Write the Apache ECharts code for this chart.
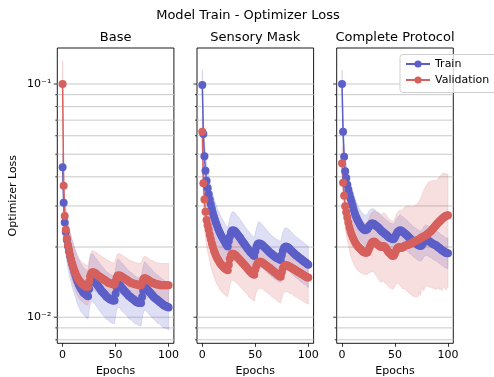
<!DOCTYPE html>
<html>
<head>
<meta charset="utf-8">
<script src="https://cdn.jsdelivr.net/npm/echarts@6/dist/echarts.min.js"></script>
<style>
  html, body { margin: 0; padding: 0; background: #fff; }
  #chart { width: 494px; height: 377px; }
</style>
</head>
<body>
<div id="chart"></div>
<script>
// ---- data: mean loss per epoch with lower / upper band edges ----
const baseTrain = [.044,.031,.0255,.0232,.0215,.0202,.0192,.0183,.0176,.0169,.0163,.0157,.0152,.0147,.0143,.0139,.0136,.0133,.0131,.0129,.0127,.0126,.0125,.0124,.0123,
  .0132,.0141,.0145,.0146,.0145,.0143,.0141,.0139,.0137,.0135,.0133,.0131,.0129,.0128,.0126,.0125,.0123,.0122,.0121,.012,.0119,.0119,.0118,.0118,.0118,
  .0126,.0134,.0138,.0138,.0137,.0135,.0133,.0132,.013,.0129,.0127,.0126,.0124,.0123,.0122,.0121,.012,.0119,.0118,.0117,.0116,.0116,.0115,.0115,.0115,
  .0122,.013,.0134,.0134,.0133,.0131,.013,.0128,.0127,.0125,.0124,.0122,.0121,.012,.0119,.0118,.0117,.0116,.0115,.0114,.0113,.0112,.0112,.0111,.0111,.011];
const baseTrainLo = [.039,.026,.0208,.0187,.0173,.0162,.0154,.0147,.0141,.0135,.013,.0126,.0122,.0118,.0114,.0111,.0109,.0106,.0105,.0103,.0102,.0101,.01,.0099,.0098,
  .0106,.0113,.0116,.0117,.0116,.0114,.0113,.0111,.011,.0108,.0106,.0105,.0103,.0102,.0101,.01,.0098,.0098,.0097,.0096,.0095,.0095,.0094,.0094,.0094,
  .0101,.0107,.011,.011,.011,.0108,.0106,.0106,.0104,.0103,.0102,.0101,.0099,.0098,.0098,.0097,.0096,.0095,.0094,.0094,.0093,.0093,.0092,.0092,.0092,
  .0098,.0104,.0107,.0107,.0106,.0105,.0104,.0102,.0102,.01,.0099,.0098,.0097,.0096,.0095,.0094,.0094,.0093,.0092,.0091,.009,.009,.009,.0089,.0089,.0088];
const baseTrainHi = [.05,.037,.0315,.0292,.0272,.0257,.0245,.0234,.0225,.0216,.0209,.0201,.0195,.0188,.0183,.0178,.0174,.017,.0168,.0165,.0163,.0161,.016,.0159,.0157,
  .0169,.018,.0186,.0187,.0186,.0183,.018,.0178,.0175,.0173,.017,.0168,.0165,.0164,.0161,.016,.0157,.0156,.0155,.0154,.0152,.0152,.0151,.0151,.0151,
  .0161,.0172,.0177,.0177,.0175,.0173,.017,.0169,.0166,.0165,.0163,.0161,.0159,.0157,.0156,.0155,.0154,.0152,.0151,.015,.0148,.0148,.0147,.0147,.0147,
  .0156,.0166,.0172,.0172,.017,.0168,.0166,.0164,.0163,.016,.0159,.0156,.0155,.0154,.0152,.0151,.015,.0148,.0147,.0146,.0145,.0143,.0143,.0142,.0142,.0141];
const baseVal = [.1,.0366,.0272,.0237,.0218,.0204,.0194,.0185,.0177,.017,.0164,.0159,.0155,.0151,.0148,.0145,.0143,.0141,.0139,.0138,.0137,.0136,.0135,.0135,.0135,
  .0142,.015,.0154,.0156,.0156,.0155,.0154,.0153,.0151,.015,.0149,.0148,.0147,.0146,.0145,.0144,.0143,.0142,.0141,.014,.014,.0139,.0139,.0138,.0138,
  .0143,.0148,.0151,.0151,.0151,.015,.0149,.0148,.0147,.0146,.0145,.0144,.0143,.0142,.0141,.014,.014,.0139,.0139,.0138,.0138,.0138,.0137,.0137,.0137,
  .0141,.0145,.0147,.0147,.0146,.0145,.0144,.0143,.0142,.0141,.0141,.014,.0139,.0139,.0138,.0138,.0138,.0137,.0137,.0137,.0137,.0137,.0137,.0137,.0137,.0137];
const baseValLo = [.08,.031,.0228,.0199,.0183,.0171,.0163,.0155,.0149,.0143,.0138,.0134,.013,.0127,.0124,.0122,.012,.0118,.0117,.0116,.0115,.0114,.0113,.0113,.0113,
  .0119,.0126,.0129,.0131,.0131,.013,.0129,.0129,.0127,.0126,.0125,.0124,.0123,.0123,.0122,.0121,.012,.0119,.0118,.0118,.0118,.0117,.0117,.0116,.0116,
  .012,.0124,.0127,.0127,.0127,.0126,.0125,.0124,.0123,.0123,.0122,.0121,.012,.0119,.0118,.0118,.0118,.0117,.0117,.0116,.0116,.0116,.0115,.0115,.0115,
  .0118,.0122,.0123,.0123,.0123,.0122,.0121,.012,.0119,.0118,.0118,.0118,.0117,.0117,.0116,.0116,.0116,.0115,.0115,.0115,.0115,.0115,.0115,.0115,.0115,.0115];
const baseValHi = [.126,.045,.0337,.0294,.027,.0253,.0241,.0229,.0219,.0211,.0203,.0197,.0192,.0187,.0184,.018,.0177,.0175,.0172,.0171,.017,.0169,.0167,.0167,.0167,
  .0176,.0186,.0191,.0193,.0193,.0192,.0191,.019,.0187,.0186,.0185,.0184,.0182,.0181,.018,.0179,.0177,.0176,.0175,.0174,.0174,.0172,.0172,.0171,.0171,
  .0177,.0184,.0187,.0187,.0187,.0186,.0185,.0184,.0182,.0181,.018,.0179,.0177,.0176,.0175,.0174,.0174,.0172,.0172,.0171,.0171,.0171,.017,.017,.017,
  .0175,.018,.0182,.0182,.0181,.018,.0179,.0177,.0176,.0175,.0175,.0174,.0172,.0172,.0171,.0171,.0171,.017,.017,.017,.017,.017,.017,.017,.017,.017];

const maskTrain = [.099,.061,.049,.0425,.0385,.0358,.0337,.032,.0305,.0292,.028,.027,.0261,.0253,.0246,.0239,.0233,.0228,.0223,.0219,.0215,.0211,.0207,.0204,.0201,
  .0212,.0222,.023,.0235,.0236,.0235,.0233,.023,.0227,.0224,.0221,.0218,.0214,.0211,.0208,.0205,.0202,.0199,.0196,.0194,.0191,.0189,.0187,.0185,.0183,
  .0192,.02,.0205,.0207,.0207,.0206,.0205,.0203,.0201,.0199,.0197,.0195,.0193,.0191,.0189,.0187,.0186,.0184,.0183,.0181,.018,.0179,.0178,.0177,.0176,
  .0185,.0193,.0198,.02,.0201,.02,.0199,.0197,.0195,.0193,.0191,.0189,.0187,.0185,.0184,.0182,.0181,.0179,.0178,.0176,.0175,.0173,.0172,.0171,.0169,.0168];
const maskTrainLo = [.088,.052,.041,.035,.031,.0287,.027,.0256,.0244,.0234,.0224,.0216,.0209,.0202,.0197,.0191,.0186,.0182,.0178,.0175,.0172,.0169,.0166,.0163,.0161,
  .017,.0178,.0184,.0188,.0189,.0188,.0186,.0184,.0182,.0179,.0177,.0174,.0171,.0169,.0166,.0164,.0162,.0159,.0157,.0155,.0153,.0151,.015,.0148,.0146,
  .0154,.016,.0164,.0166,.0166,.0165,.0164,.0162,.0161,.0159,.0158,.0156,.0154,.0153,.0151,.015,.0149,.0147,.0146,.0145,.0144,.0143,.0142,.0142,.0141,
  .0148,.0154,.0158,.016,.0161,.016,.0159,.0158,.0156,.0154,.0153,.0151,.015,.0148,.0147,.0146,.0145,.0143,.0142,.0141,.014,.0138,.0138,.0137,.0135,.0134];
const maskTrainHi = [.115,.072,.058,.051,.046,.043,.0404,.0384,.0366,.035,.0336,.0324,.0313,.0304,.0295,.0287,.028,.0274,.0268,.0263,.0258,.0253,.0248,.0245,.0241,
  .0254,.0266,.0276,.0282,.0283,.0282,.028,.0276,.0272,.0269,.0265,.0262,.0257,.0253,.025,.0246,.0242,.0239,.0235,.0233,.0229,.0227,.0224,.0222,.022,
  .023,.024,.0248,.0256,.0256,.0254,.0251,.0248,.0245,.0242,.0239,.0236,.0233,.023,.0227,.0225,.0223,.0221,.022,.0217,.0216,.0215,.0214,.0212,.0211,
  .0222,.0232,.0238,.0241,.0242,.0241,.0239,.0237,.0234,.0232,.0229,.0227,.0224,.0222,.0221,.0218,.0217,.0215,.0214,.0211,.021,.0208,.0206,.0205,.0203,.0202];
const maskVal = [.0624,.0375,.032,.0283,.0261,.0248,.0237,.0226,.0216,.0207,.02,.0193,.0188,.0183,.0179,.0176,.0173,.017,.0168,.0166,.0164,.0162,.0161,.016,.0159,
  .0168,.0178,.0184,.0187,.0187,.0186,.0185,.0183,.0181,.0179,.0177,.0175,.0173,.0171,.0169,.0167,.0165,.0163,.0161,.0159,.0157,.0156,.0154,.0153,.0152,
  .016,.0166,.017,.0172,.0173,.0173,.0172,.0171,.017,.0168,.0167,.0166,.0164,.0163,.0162,.016,.0159,.0158,.0156,.0155,.0154,.0152,.0151,.015,.0149,
  .0156,.0162,.0165,.0167,.0167,.0167,.0166,.0165,.0164,.0163,.0162,.0161,.016,.0159,.0158,.0157,.0156,.0155,.0154,.0153,.0152,.0151,.015,.0149,.0148,.0148];
const maskValLo = [.054,.03,.0253,.0221,.0203,.0192,.0183,.0174,.0166,.0159,.0154,.0149,.0145,.0141,.0138,.0136,.0133,.0131,.0129,.0128,.0126,.0125,.0124,.0123,.0122,
  .0129,.0137,.0142,.0144,.0144,.0143,.0142,.0141,.0139,.0138,.0136,.0135,.0133,.0132,.013,.0129,.0127,.0126,.0124,.0122,.0121,.012,.0119,.0118,.0117,
  .0123,.0128,.0131,.0132,.0133,.0133,.0132,.0132,.0131,.0129,.0129,.0128,.0126,.0126,.0125,.0123,.0122,.0122,.012,.0119,.0119,.0117,.0116,.0116,.0115,
  .012,.0125,.0127,.0129,.0129,.0129,.0128,.0127,.0126,.0126,.0125,.0124,.0123,.0122,.0122,.0121,.012,.0119,.0119,.0118,.0117,.0116,.0116,.0115,.0114,.0114];
const maskValHi = [.072,.045,.0384,.034,.0313,.0298,.0284,.0271,.0259,.0248,.024,.0232,.0226,.022,.0215,.0211,.0208,.0204,.0202,.0199,.0197,.0194,.0193,.0192,.0191,
  .0202,.0214,.0221,.0224,.0224,.0223,.0222,.022,.0217,.0215,.0212,.021,.0208,.0205,.0203,.02,.0198,.0196,.0193,.0191,.0188,.0187,.0185,.0184,.0182,
  .0192,.0199,.0204,.0206,.0208,.0208,.0206,.0205,.0204,.0202,.02,.0199,.0197,.0196,.0194,.0192,.0191,.019,.0187,.0186,.0185,.0182,.0181,.018,.0179,
  .0187,.0194,.0198,.02,.02,.02,.0199,.0198,.0197,.0196,.0194,.0193,.0192,.0191,.019,.0188,.0187,.0186,.0185,.0184,.0182,.0181,.018,.0179,.0178,.0178];

const fullTrain = [.1,.0624,.0488,.0423,.0395,.037,.0352,.0337,.0324,.0313,.0301,.029,.028,.0272,.0265,.0259,.0254,.0249,.0245,.0242,.0239,.0237,.0236,.0237,.0239,
  .0243,.0247,.025,.0252,.0252,.0251,.0249,.0247,.0245,.0243,.0241,.0238,.0235,.0233,.0231,.0229,.0227,.0225,.0223,.0221,.0219,.0218,.0217,.0216,.0217,
  .0221,.0226,.023,.0233,.0235,.0236,.0235,.0233,.0231,.0229,.0227,.0225,.0223,.022,.0218,.0216,.0214,.0212,.021,.0209,.0207,.0205,.0204,.0203,.0202,
  .0203,.0206,.021,.0213,.0214,.0214,.0213,.0212,.021,.0209,.0207,.0206,.0205,.0204,.0203,.0201,.0199,.0198,.0196,.0194,.0193,.0192,.019,.0189,.0188,.0188];
const fullTrainLo = [.092,.054,.042,.0364,.034,.0318,.0303,.029,.0279,.0269,.0259,.0249,.0241,.0234,.0228,.0223,.0218,.0214,.0211,.0208,.0206,.0204,.0203,.0204,.0206,
  .0209,.0212,.0215,.0217,.0217,.0216,.0214,.0212,.0211,.0209,.0207,.0205,.0202,.02,.0199,.0197,.0195,.0194,.0192,.019,.0188,.0187,.0187,.0186,.0187,
  .019,.0194,.0198,.02,.0202,.0203,.0202,.02,.0199,.0197,.0195,.0194,.0192,.0189,.0187,.0186,.0184,.0182,.0181,.018,.0178,.0176,.0175,.0175,.0174,
  .0175,.0177,.0181,.0183,.0184,.0184,.0183,.0182,.0181,.018,.0178,.0177,.0176,.0175,.0175,.0173,.0171,.017,.0169,.0167,.0166,.0165,.0163,.0163,.0162,.0162];
const fullTrainHi = [.115,.072,.056,.0489,.0457,.0429,.0408,.039,.0376,.0363,.0349,.0336,.0325,.0316,.0307,.03,.0295,.0289,.0284,.0281,.0277,.0275,.0274,.0275,.0277,
  .0282,.0287,.029,.0292,.0292,.0291,.0289,.0287,.0284,.0282,.028,.0276,.0273,.027,.0268,.0266,.0263,.0261,.0259,.0256,.0254,.0253,.0252,.0251,.0252,
  .0256,.0262,.0267,.027,.0273,.0274,.0273,.027,.0268,.0266,.0263,.0261,.0259,.0255,.0253,.0251,.0248,.0246,.0244,.0242,.024,.0238,.0237,.0235,.0234,
  .0235,.0239,.0244,.0247,.0248,.0248,.0247,.0246,.0244,.0242,.024,.0239,.0238,.0237,.0235,.0233,.0231,.023,.0227,.0225,.0224,.0223,.022,.0219,.0218,.0218];
const fullVal = [.0457,.0377,.0332,.0299,.0282,.0268,.0255,.0243,.0234,.0227,.0221,.0216,.0211,.0207,.0204,.0201,.0199,.0197,.0195,.0193,.0191,.019,.0189,.0189,.019,
  .0194,.0199,.0204,.0208,.021,.0211,.021,.0208,.0206,.0204,.0203,.0201,.02,.0201,.0202,.0201,.0199,.0196,.0193,.019,.0188,.0186,.0184,.0183,.0184,
  .0188,.0193,.0197,.0199,.02,.0199,.0198,.0199,.02,.0202,.0203,.0204,.0204,.0205,.0206,.0207,.0208,.0209,.0211,.0212,.0213,.0214,.0215,.0216,.0218,
  .0219,.0221,.0222,.0223,.0224,.0226,.0228,.023,.0232,.0234,.0237,.024,.0243,.0246,.0249,.0252,.0255,.0258,.026,.0263,.0266,.0268,.027,.0272,.0273,.0274];
const fullValLo = [.0387,.031,.027,.024,.0225,.0213,.0203,.0193,.0185,.0179,.0174,.017,.0166,.0163,.016,.0158,.0157,.0156,.0155,.0154,.0153,.0153,.0152,.0152,.0153,
  .0154,.0155,.0156,.0157,.0157,.0156,.0154,.0151,.0149,.0146,.0144,.0142,.0141,.0142,.0143,.0141,.014,.0138,.0137,.0135,.0134,.0133,.0132,.0132,.0133,
  .0136,.0139,.014,.0139,.0138,.0136,.0134,.0133,.0132,.0132,.0131,.013,.0128,.0127,.0126,.0125,.0124,.0123,.0123,.0122,.0122,.0122,.0123,.0128,.0124,
  .0131,.0134,.013,.0133,.0136,.0137,.0135,.0136,.0134,.0135,.0133,.0134,.0132,.0131,.0133,.0132,.0134,.0131,.0133,.013,.0132,.0134,.0133,.0131,.0133,.0134];
const fullValHi = [.054,.046,.041,.037,.035,.0335,.032,.0306,.0296,.0288,.0282,.0277,.0272,.0268,.0265,.0262,.026,.0258,.0257,.0256,.0255,.0254,.0253,.0254,.0256,
  .0262,.0269,.0276,.0281,.0284,.0286,.0285,.0283,.0281,.0279,.0278,.0276,.0276,.0278,.028,.0279,.0277,.0273,.0269,.0265,.0263,.0261,.0259,.0258,.026,
  .0266,.0274,.028,.0284,.0287,.0287,.0287,.029,.0292,.0296,.0298,.03,.0299,.03,.0299,.0298,.0297,.0298,.03,.0302,.0304,.0306,.031,.0316,.0322,
  .033,.034,.0349,.0357,.0364,.037,.0376,.038,.0382,.0384,.0385,.0386,.0386,.0385,.0387,.039,.0395,.04,.0405,.041,.0413,.0415,.0415,.0414,.041,.041];

const epochs = baseTrain.map((_, k) => k);
const panelTitles = ['Base', 'Sensory Mask', 'Complete Protocol'];
const xTicks = [0, 50, 100];
const yMajorTicks = [0.01, 0.1];
const yMajorLabels = ['10\u207B\u00B2', '10\u207B\u00B9'];
const yGridValues = [0.008, 0.009, 0.01, 0.02, 0.03, 0.04, 0.05, 0.06, 0.07, 0.08, 0.09, 0.1];

const panels = [
  { train: baseTrain, trainLo: baseTrainLo, trainHi: baseTrainHi, val: baseVal, valLo: baseValLo, valHi: baseValHi },
  { train: maskTrain, trainLo: maskTrainLo, trainHi: maskTrainHi, val: maskVal, valLo: maskValLo, valHi: maskValHi },
  { train: fullTrain, trainLo: fullTrainLo, trainHi: fullTrainHi, val: fullVal, valLo: fullValLo, valHi: fullValHi }
];

// ---- styling / layout ----
const FONT = 'DejaVu Sans';
const BLUE = '#5c5fc8';
const RED = '#d6605d';
const BLUE_BAND = 'rgba(92,95,200,0.2)';
const RED_BAND = 'rgba(214,96,93,0.2)';
const plotLeft = [57.3, 197, 336.7];
const plotW = 116.6, plotTop = 48, plotH = 295.3;
const yMin = 0.00773, yMax = 0.1427;

const grids = [], xAxes = [], yAxes = [], series = [], graphics = [];

graphics.push({
  type: 'text', x: 248, y: 16, silent: true,
  style: { text: 'Model Train - Optimizer Loss', font: '13px "' + FONT + '"', fill: '#000', align: 'center', verticalAlign: 'middle' }
});

function bandSeries(i, lo, hi, color) {
  return {
    type: 'custom', xAxisIndex: i, yAxisIndex: i, silent: true, z: 2,
    data: lo.map((v, k) => [epochs[k], v, hi[k]]),
    encode: { x: 0, y: [1, 2] },
    renderItem: (params, api) => {
      if (params.dataIndex !== 0) return null;
      const pts = [];
      for (let k = 0; k < hi.length; k++) pts.push(api.coord([epochs[k], hi[k]]));
      for (let k = lo.length - 1; k >= 0; k--) pts.push(api.coord([epochs[k], lo[k]]));
      return { type: 'polygon', shape: { points: pts }, style: { fill: color, stroke: color, lineWidth: 0.8 } };
    }
  };
}

function lineSeries(i, name, values, color) {
  return {
    type: 'line', name: name, xAxisIndex: i, yAxisIndex: i, z: 3,
    data: values.map((v, k) => [epochs[k], v]),
    symbol: 'circle', symbolSize: 8, showSymbol: true, showAllSymbol: true,
    lineStyle: { width: 1.5, color: color }, itemStyle: { color: color },
    emphasis: { disabled: true }, animation: false
  };
}

panels.forEach((p, i) => {
  grids.push({
    left: plotLeft[i], top: plotTop, width: plotW, height: plotH,
    show: true, borderColor: '#000', borderWidth: 0.9, backgroundColor: 'transparent',
    containLabel: false, outerBoundsMode: 'none'
  });
  xAxes.push({
    type: 'value', gridIndex: i, min: -5, max: 105,
    axisLine: { show: false }, splitLine: { show: false },
    axisTick: { show: true, customValues: xTicks, length: 3.5, lineStyle: { color: '#000', width: 0.8 } },
    axisLabel: { customValues: xTicks, fontSize: 11, color: '#000', margin: 6, fontFamily: FONT },
    name: 'Epochs', nameLocation: 'middle', nameGap: 22,
    nameTextStyle: { fontSize: 11, color: '#000', fontFamily: FONT }
  });
  yAxes.push({
    type: 'log', logBase: 10, gridIndex: i, min: yMin, max: yMax,
    axisLine: { show: false }, axisTick: { show: false }, splitLine: { show: false },
    axisLabel: {
      show: i === 0, fontSize: 11, color: '#000', margin: 6, fontFamily: FONT,
      showMinLabel: false, showMaxLabel: false,
      formatter: v => {
        for (let j = 0; j < yMajorTicks.length; j++) {
          if (Math.abs(Math.log10(v) - Math.log10(yMajorTicks[j])) < 1e-6) return yMajorLabels[j];
        }
        return '';
      }
    },
    name: i === 0 ? 'Optimizer Loss' : '', nameLocation: 'middle', nameGap: 39,
    nameTextStyle: { fontSize: 11, color: '#000', fontFamily: FONT }
  });

  // horizontal grid lines and y tick marks at major and minor positions
  series.push({
    type: 'custom', xAxisIndex: i, yAxisIndex: i, silent: true, z: 1,
    data: yGridValues.map(v => [0, v]),
    renderItem: (params, api) => {
      const cs = params.coordSys;
      const v = api.value(1);
      const y = api.coord([0, v])[1];
      const len = yMajorTicks.indexOf(v) >= 0 ? 3.5 : 2;
      return {
        type: 'group', children: [
          { type: 'line', shape: { x1: cs.x, y1: y, x2: cs.x + cs.width, y2: y }, style: { stroke: '#c8c8c8', lineWidth: 1 } },
          { type: 'line', shape: { x1: cs.x - len, y1: y, x2: cs.x, y2: y }, style: { stroke: '#000', lineWidth: 0.8 } }
        ]
      };
    }
  });

  series.push(bandSeries(i, p.trainLo, p.trainHi, BLUE_BAND));
  series.push(bandSeries(i, p.valLo, p.valHi, RED_BAND));
  series.push(lineSeries(i, 'Train', p.train, BLUE));
  series.push(lineSeries(i, 'Validation', p.val, RED));

  graphics.push({
    type: 'text', x: plotLeft[i] + plotW / 2, y: 37.2, silent: true,
    style: { text: panelTitles[i], font: '13px "' + FONT + '"', fill: '#000', align: 'center', verticalAlign: 'middle' }
  });
});

const chart = echarts.init(document.getElementById('chart'), null, { renderer: 'canvas' });
chart.setOption({
  animation: false,
  backgroundColor: '#fff',
  textStyle: { fontFamily: FONT },
  grid: grids,
  xAxis: xAxes,
  yAxis: yAxes,
  series: series,
  graphic: graphics,
  legend: {
    data: ['Train', 'Validation'],
    orient: 'vertical', left: 400, top: 54.5,
    itemWidth: 24, itemHeight: 9, itemGap: 5,
    padding: [4, 12, 7, 5],
    backgroundColor: 'rgba(255,255,255,0.8)',
    borderColor: '#cfcfcf', borderWidth: 1, borderRadius: 3,
    textStyle: { fontSize: 11, color: '#000', fontFamily: FONT },
    selectedMode: false, z: 10
  }
});
</script>
</body>
</html>
